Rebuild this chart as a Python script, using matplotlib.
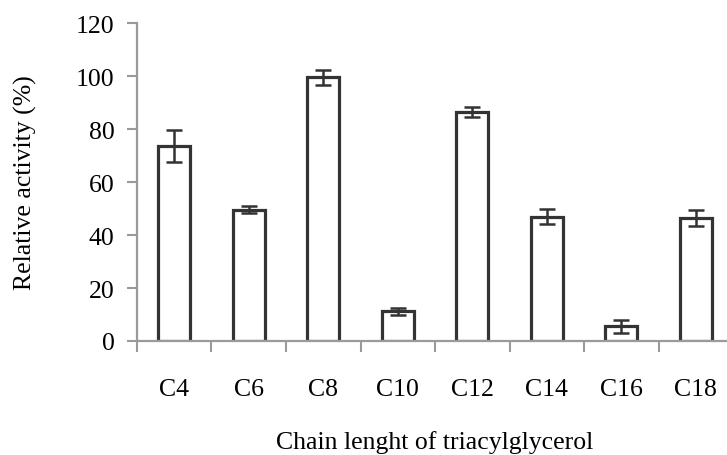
import numpy as np
import matplotlib.pyplot as plt

plt.rcParams['font.family'] = ['Liberation Serif', 'DejaVu Serif']

chains = ['C4', 'C6', 'C8', 'C10', 'C12', 'C14', 'C16', 'C18']
activity = [73.5, 49.5, 99.5, 11.2, 86.5, 47.0, 5.5, 46.3]
err = [6.0, 1.3, 2.8, 1.2, 1.8, 2.8, 2.5, 3.0]

axis_col = '#9a9a9a'
bar_col = '#333333'

fig = plt.figure(figsize=(7.27, 4.56), dpi=100)
ax = fig.add_axes([0.1884, 0.25, 0.82, 0.697])

x = np.arange(len(chains)) + 0.5
ax.bar(x, activity, width=0.43, color='white', edgecolor=bar_col, linewidth=2.3,
       yerr=err, error_kw=dict(ecolor=bar_col, elinewidth=1.8, capsize=6, capthick=1.8))

ax.set_xlim(0, 8)
ax.set_ylim(0, 120)
ax.set_yticks(range(0, 121, 20))

ax.set_xticks(x)
ax.set_xticklabels(chains)
ax.set_xticks(np.arange(0, 9), minor=True)
ax.tick_params(axis='x', which='major', length=0, pad=27, labelsize=18.5)
ax.tick_params(axis='x', which='minor', length=8, width=1.5, color=axis_col, direction='out')
ax.tick_params(axis='y', length=7, width=1.5, color=axis_col, direction='out', pad=9, labelsize=18.5)

for s in ['top', 'right']:
    ax.spines[s].set_visible(False)
for s in ['left', 'bottom']:
    ax.spines[s].set_color(axis_col)
    ax.spines[s].set_linewidth(1.6)

ax.set_ylabel('Relative activity (%)', fontsize=18.5, labelpad=28)
ax.set_xlabel('Chain lenght of triacylglycerol', fontsize=18.5, labelpad=21)

fig.savefig('out.png', dpi=100)
